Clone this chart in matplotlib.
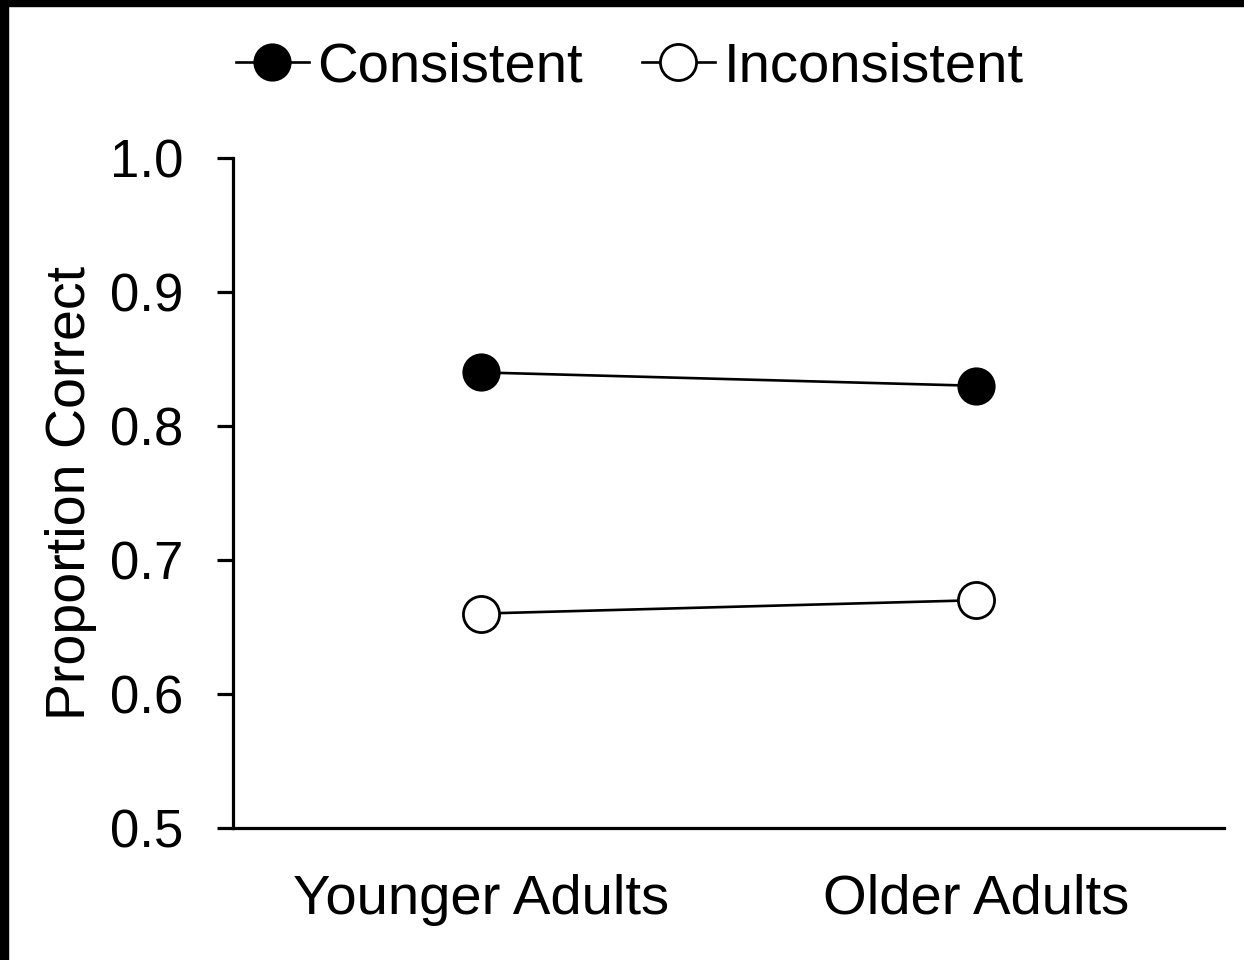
import matplotlib
matplotlib.use("Agg")
import matplotlib.pyplot as plt
from matplotlib.patches import Rectangle

groups = ["Younger Adults", "Older Adults"]
consistent = [0.84, 0.83]
inconsistent = [0.66, 0.67]
yticks = [0.5, 0.6, 0.7, 0.8, 0.9, 1.0]

plt.rcParams["font.family"] = ["Liberation Sans", "DejaVu Sans"]

W, H = 1244, 960
fig = plt.figure(figsize=(W / 100, H / 100), dpi=100)
ax = fig.add_axes([233 / W, 1 - 828 / H, (1224 - 233) / W, (828 - 158) / H])

x = list(range(len(groups)))
ax.plot(x, consistent, color="black", lw=1.9, marker="o", ms=26,
        mfc="black", mec="black", mew=1.5, label="Consistent")
ax.plot(x, inconsistent, color="black", lw=1.9, marker="o", ms=26,
        mfc="white", mec="black", mew=2.0, label="Inconsistent")

ax.set_xlim(-0.5, 1.5)
ax.set_ylim(0.5, 1.0)
ax.set_yticks(yticks)
ax.set_yticklabels([f"{v:.1f}" for v in yticks])
ax.set_xticks(x)
ax.set_xticklabels(groups)

for s in ("top", "right"):
    ax.spines[s].set_visible(False)
for s in ("left", "bottom"):
    ax.spines[s].set_linewidth(2.3)

ax.tick_params(axis="y", direction="out", length=11.5, width=2.3,
               labelsize=38, pad=24)
ax.tick_params(axis="x", length=0, labelsize=40.5, pad=33)

ax.set_ylabel("Proportion Correct", fontsize=40)
ax.yaxis.set_label_coords(-0.137, 0.5)

fig.legend(loc="center", bbox_to_anchor=(0.506, 1 - 68 / H), ncol=2,
           frameon=False, fontsize=40.5, handlelength=1.3, handletextpad=0.15,
           columnspacing=1.05, markerscale=1.0, borderpad=0)

# dark frame along the top and left edges
fig.patches.append(Rectangle((0, 1 - 6 / H), 1, 6 / H, transform=fig.transFigure,
                             color="black", zorder=10))
fig.patches.append(Rectangle((0, 0), 8 / W, 1, transform=fig.transFigure,
                             color="black", zorder=10))

fig.savefig("out.png", dpi=100)
